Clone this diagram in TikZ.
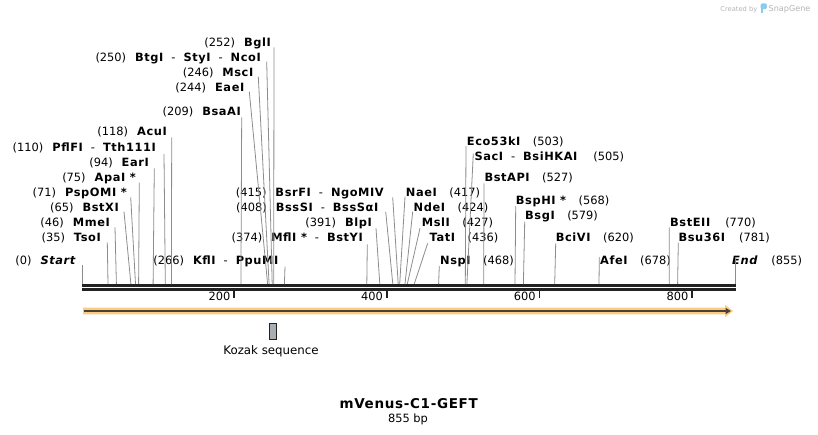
\documentclass[tikz,border=0pt]{standalone}
\usepackage{fontspec}
\setmainfont{DejaVu Sans}
\newfontfamily\enzfont{DejaVu Sans}[LetterSpace=5]
\usetikzlibrary{arrows.meta}
\definecolor{cutgray}{HTML}{8C8C8C}
\definecolor{bbone}{HTML}{222222}
\definecolor{featorange}{HTML}{FBCB80}
\definecolor{featline}{HTML}{4A4038}
\definecolor{kozakfill}{HTML}{A9AEB5}
\definecolor{sgblue}{HTML}{8CCBF0}
\definecolor{sggray}{HTML}{B4B4B4}
\newcommand{\enzname}[1]{{\enzfont\bfseries #1}}
\newcommand{\lgap}{\hspace{9pt}}
\newcommand{\rgap}{\hspace{12.5pt}}
\newcommand{\dgap}{\hspace{8pt}-\hspace{8pt}}

\begin{document}
\begin{tikzpicture}[x=1pt,y=-1pt]
    \tikzstyle{lbl} = [inner sep=0pt, font=\fontsize{11.4}{13}\selectfont]
    \tikzstyle{leftlbl} = [lbl, anchor=base east]
    \tikzstyle{rightlbl} = [lbl, anchor=base west]
    \tikzstyle{cutline} = [draw=cutgray, line width=0.8pt]
    \tikzstyle{backbone} = [draw=bbone, line width=2.6pt]
    \tikzstyle{tick} = [draw=bbone, line width=1.6pt]
    \useasboundingbox (0,0) rectangle (818,434);

    % sequence backbone and ruler
    \draw[backbone] (82,285.3) -- (736,285.3);
    \draw[backbone] (82,289.5) -- (736,289.5);
    \draw[tick] (234.0,290.5) -- (234.0,297.5);
    \draw[tick] (386.7,290.5) -- (386.7,297.5);
    \draw[tick] (539.4,290.5) -- (539.4,297.5);
    \draw[tick] (692.1,290.5) -- (692.1,297.5);
    \node[leftlbl] (t200) at (230.5,300.7) {200};
    \node[leftlbl] (t400) at (383.2,300.7) {400};
    \node[leftlbl] (t600) at (535.9,300.7) {600};
    \node[leftlbl] (t800) at (688.6,300.7) {800};

    % cut sites on the backbone
    \coordinate (sStart) at (82.0,284);
    \coordinate (sTsoI) at (108.0,284);
    \coordinate (sMmeI) at (116.4,284);
    \coordinate (sBstXI) at (130.9,284);
    \coordinate (sPspOMI) at (135.5,284);
    \coordinate (sApaI) at (138.6,284);
    \coordinate (sEarI) at (153.1,284);
    \coordinate (sPflFI) at (165.3,284);
    \coordinate (sAcuI) at (171.4,284);
    \coordinate (sBsaAI) at (240.9,284);
    \coordinate (sEaeI) at (267.6,284);
    \coordinate (sMscI) at (269.1,284);
    \coordinate (sBtgI) at (272.2,284);
    \coordinate (sBglI) at (273.7,284);
    \coordinate (sKflI) at (284.4,284);
    \coordinate (sMflI) at (366.8,284);
    \coordinate (sBlpI) at (379.8,284);
    \coordinate (sBssSI) at (392.8,284);
    \coordinate (sBsrFI) at (398.2,284);
    \coordinate (sNaeI) at (399.7,284);
    \coordinate (sNdeI) at (405.0,284);
    \coordinate (sMslI) at (407.3,284);
    \coordinate (sTatI) at (414.2,284);
    \coordinate (sNspI) at (438.6,284);
    \coordinate (sEco53kI) at (465.3,284);
    \coordinate (sSacI) at (466.9,284);
    \coordinate (sBstAPI) at (483.7,284);
    \coordinate (sBspHI) at (515.0,284);
    \coordinate (sBsgI) at (523.4,284);
    \coordinate (sBciVI) at (554.7,284);
    \coordinate (sAfeI) at (599.0,284);
    \coordinate (sBstEII) at (669.2,284);
    \coordinate (sBsu36I) at (677.6,284);
    \coordinate (sEnd) at (735.3,284);

    % labels left of their line
    \node[leftlbl] (Start) at (75.5,264) {(0)\lgap\enzname{\itshape Start}};
    \node[leftlbl] (TsoI) at (101,241) {(35)\lgap\enzname{TsoI}};
    \node[leftlbl] (MmeI) at (110,226.5) {(46)\lgap\enzname{MmeI}};
    \node[leftlbl] (BstXI) at (119,211) {(65)\lgap\enzname{BstXI}};
    \node[leftlbl] (PspOMI) at (127,196.5) {(71)\lgap\enzname{PspOMI *}};
    \node[leftlbl] (ApaI) at (136,181) {(75)\lgap\enzname{ApaI *}};
    \node[leftlbl] (EarI) at (149,166.5) {(94)\lgap\enzname{EarI}};
    \node[leftlbl] (PflFI) at (156,151) {(110)\lgap\enzname{PflFI}\dgap\enzname{Tth111I}};
    \node[leftlbl] (AcuI) at (167,135.5) {(118)\lgap\enzname{AcuI}};
    \node[leftlbl] (BsaAI) at (241,115) {(209)\lgap\enzname{BsaAI}};
    \node[leftlbl] (EaeI) at (244.5,91.5) {(244)\lgap\enzname{EaeI}};
    \node[leftlbl] (MscI) at (253.5,76.5) {(246)\lgap\enzname{MscI}};
    \node[leftlbl] (BtgI) at (261,61.5) {(250)\lgap\enzname{BtgI}\dgap\enzname{StyI}\dgap\enzname{NcoI}};
    \node[leftlbl] (BglI) at (271,46.5) {(252)\lgap\enzname{BglI}};
    \node[leftlbl] (KflI) at (278.5,264) {(266)\lgap\enzname{KflI}\dgap\enzname{PpuMI}};
    \node[leftlbl] (MflI) at (363,241) {(374)\lgap\enzname{MflI *}\dgap\enzname{BstYI}};
    \node[leftlbl] (BlpI) at (372,226) {(391)\lgap\enzname{BlpI}};
    \node[leftlbl] (BssSI) at (378.5,211) {(408)\lgap\enzname{BssSI}\dgap\enzname{BssSαI}};
    \node[leftlbl] (BsrFI) at (384,196) {(415)\lgap\enzname{BsrFI}\dgap\enzname{NgoMIV}};

    % labels right of their line
    \node[rightlbl] (NaeI) at (405.7,196) {\enzname{NaeI}\rgap(417)};
    \node[rightlbl] (NdeI) at (413.5,211) {\enzname{NdeI}\rgap(424)};
    \node[rightlbl] (MslI) at (421.7,226) {\enzname{MslI}\rgap(427)};
    \node[rightlbl] (TatI) at (429.5,241) {\enzname{TatI}\rgap(436)};
    \node[rightlbl] (NspI) at (440,264) {\enzname{NspI}\rgap(468)};
    \node[rightlbl] (Eco53kI) at (466.7,145.7) {\enzname{Eco53kI}\rgap(503)};
    \node[rightlbl] (SacI) at (474.3,160.5) {\enzname{SacI}\dgap\enzname{BsiHKAI}\hspace{16pt}(505)};
    \node[rightlbl] (BstAPI) at (484.3,181.5) {\enzname{BstAPI}\rgap(527)};
    \node[rightlbl] (BspHI) at (515.7,204.5) {\enzname{BspHI *}\rgap(568)};
    \node[rightlbl] (BsgI) at (525,219.5) {\enzname{BsgI}\rgap(579)};
    \node[rightlbl] (BciVI) at (555.7,241) {\enzname{BciVI}\rgap(620)};
    \node[rightlbl] (AfeI) at (600,264) {\enzname{AfeI}\rgap(678)};
    \node[rightlbl] (BstEII) at (670,226) {\enzname{BstEII}\hspace{15pt}(770)};
    \node[rightlbl] (Bsu36I) at (678.3,241) {\enzname{Bsu36I}\hspace{14pt}(781)};
    \node[rightlbl] (End) at (732,264) {\enzname{\itshape End}\hspace{14pt}(855)};

    % where each line meets its label
    \coordinate (tStart) at (82,265);
    \coordinate (tTsoI) at (107.3,242.3);
    \coordinate (tMmeI) at (115,227.3);
    \coordinate (tBstXI) at (124,211.7);
    \coordinate (tPspOMI) at (130.7,197.3);
    \coordinate (tApaI) at (139.3,182.7);
    \coordinate (tEarI) at (154.3,168.3);
    \coordinate (tPflFI) at (164,154);
    \coordinate (tAcuI) at (171.7,137.3);
    \coordinate (tBsaAI) at (241.7,117.3);
    \coordinate (tEaeI) at (249.3,91.7);
    \coordinate (tMscI) at (258.3,76.7);
    \coordinate (tBtgI) at (266.7,61.7);
    \coordinate (tBglI) at (274,47.3);
    \coordinate (tKflI) at (285,266.7);
    \coordinate (tMflI) at (367.3,244.3);
    \coordinate (tBlpI) at (376,228.3);
    \coordinate (tBssSI) at (385.7,211.7);
    \coordinate (tBsrFI) at (392.7,197.3);
    \coordinate (tNaeI) at (405,196.7);
    \coordinate (tNdeI) at (412.7,211.7);
    \coordinate (tMslI) at (420,228.3);
    \coordinate (tTatI) at (427.7,243.3);
    \coordinate (tNspI) at (439.3,266);
    \coordinate (tEco53kI) at (466,146);
    \coordinate (tSacI) at (473.3,153.5);
    \coordinate (tBstAPI) at (484,183.3);
    \coordinate (tBspHI) at (515.7,206);
    \coordinate (tBsgI) at (524.7,221.7);
    \coordinate (tBciVI) at (555.7,243.3);
    \coordinate (tAfeI) at (599.3,257);
    \coordinate (tBstEII) at (669.3,227.3);
    \coordinate (tBsu36I) at (678.3,242.7);
    \coordinate (tEnd) at (735.3,257);

    \draw[cutline] (sStart) -- (tStart);
    \draw[cutline] (sTsoI) -- (tTsoI);
    \draw[cutline] (sMmeI) -- (tMmeI);
    \draw[cutline] (sBstXI) -- (tBstXI);
    \draw[cutline] (sPspOMI) -- (tPspOMI);
    \draw[cutline] (sApaI) -- (tApaI);
    \draw[cutline] (sEarI) -- (tEarI);
    \draw[cutline] (sPflFI) -- (tPflFI);
    \draw[cutline] (sAcuI) -- (tAcuI);
    \draw[cutline] (sBsaAI) -- (tBsaAI);
    \draw[cutline] (sEaeI) -- (tEaeI);
    \draw[cutline] (sMscI) -- (tMscI);
    \draw[cutline] (sBtgI) -- (tBtgI);
    \draw[cutline] (sBglI) -- (tBglI);
    \draw[cutline] (sKflI) -- (tKflI);
    \draw[cutline] (sMflI) -- (tMflI);
    \draw[cutline] (sBlpI) -- (tBlpI);
    \draw[cutline] (sBssSI) -- (tBssSI);
    \draw[cutline] (sBsrFI) -- (tBsrFI);
    \draw[cutline] (sNaeI) -- (tNaeI);
    \draw[cutline] (sNdeI) -- (tNdeI);
    \draw[cutline] (sMslI) -- (tMslI);
    \draw[cutline] (sTatI) -- (tTatI);
    \draw[cutline] (sNspI) -- (tNspI);
    \draw[cutline] (sEco53kI) -- (tEco53kI);
    \draw[cutline] (sSacI) -- (tSacI);
    \draw[cutline] (sBstAPI) -- (tBstAPI);
    \draw[cutline] (sBspHI) -- (tBspHI);
    \draw[cutline] (sBsgI) -- (tBsgI);
    \draw[cutline] (sBciVI) -- (tBciVI);
    \draw[cutline] (sAfeI) -- (tAfeI);
    \draw[cutline] (sBstEII) -- (tBstEII);
    \draw[cutline] (sBsu36I) -- (tBsu36I);
    \draw[cutline] (sEnd) -- (tEnd);

    % feature arrow
    \fill[featorange] (83,307.7) -- (725,307.7) -- (725,304.8) -- (733,311) -- (725,317.2) -- (725,314.3) -- (83,314.3) -- cycle;
    \draw[featline, line width=2pt, -{Triangle[length=5.5pt,width=6pt]}] (84,311) -- (731,311);

    % Kozak sequence
    \node[draw=bbone, fill=kozakfill, line width=0.8pt, minimum width=7.4pt, minimum height=16pt, inner sep=0pt] (kozakbox) at (273,331) {};
    \node[lbl, anchor=base, font=\fontsize{11.8}{14}\selectfont] (kozaklbl) at (271,354) {Kozak sequence};

    % title
    \node[inner sep=0pt, anchor=base, font=\fontsize{13.5}{16}\selectfont] (title) at (408.7,408.3) {\enzname{mVenus-C1-GEFT}};
    \node[lbl, anchor=base] (bpsize) at (408,422.5) {855 bp};

    % created by
    \node[inner sep=0pt, anchor=base east, text=sggray, font=\fontsize{6.7}{8}\selectfont] (createdby) at (757.5,11.3) {Created by};
    \fill[sgblue, rounded corners=1.5pt] (760.5,3.3) rectangle (766.8,9.2);
    \fill[sgblue] (760.5,5) rectangle (763.2,12.5);
    \node[inner sep=0pt, anchor=base west, text=sggray, font=\fontsize{8.1}{10}\selectfont] (snapgene) at (768.5,11.5) {SnapGene};
\end{tikzpicture}
\end{document}
